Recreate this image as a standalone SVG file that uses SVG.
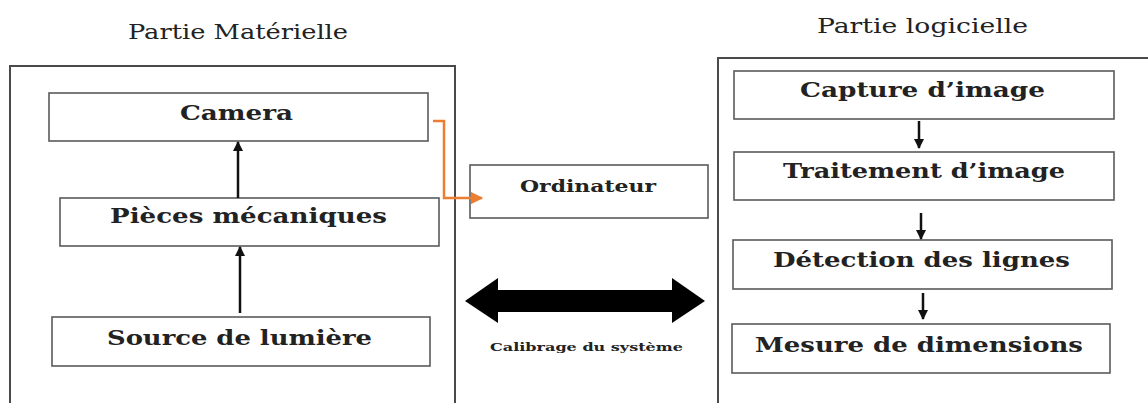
<svg xmlns="http://www.w3.org/2000/svg" width="1148" height="403" viewBox="0 0 1148 403">
<style>
.box{fill:#fff;stroke:#5a5a5a;stroke-width:1.6}
.outer{fill:none;stroke:#4a4a4a;stroke-width:2}
.t{font-family:"DejaVu Serif","Liberation Serif",serif;font-weight:bold;fill:#222;text-anchor:start}
.title{font-family:"DejaVu Serif","Liberation Serif",serif;font-size:21px;fill:#222}
.con{stroke:#111;stroke-width:2.5;fill:none}
</style>
<defs>
<marker id="ah" viewBox="0 0 10 10" refX="9" refY="5" markerWidth="4" markerHeight="4" orient="auto" markerUnits="strokeWidth">
<path d="M0,0 L10,5 L0,10 z" fill="#111"/>
</marker>
<marker id="ao" viewBox="0 0 10 10" refX="9" refY="5" markerWidth="5" markerHeight="5" orient="auto" markerUnits="strokeWidth">
<path d="M0,0 L10,5 L0,10 z" fill="#ED7D31"/>
</marker>
</defs>
<rect width="1148" height="403" fill="#fff"/>
<g id="partie-materielle">
<text class="title" x="128" y="39" textLength="220" lengthAdjust="spacingAndGlyphs">Partie Matérielle</text>
<rect class="outer" x="10" y="66" width="445" height="360"/>
</g>
<g id="partie-logicielle">
<text class="title" x="817" y="33" textLength="211" lengthAdjust="spacingAndGlyphs">Partie logicielle</text>
<rect class="outer" x="718" y="58" width="450" height="370"/>
</g>
<g id="camera">
<rect class="box" x="49" y="93" width="379" height="48"/>
<text class="t" x="180" y="120" font-size="20.5" textLength="113" lengthAdjust="spacingAndGlyphs">Camera</text>
</g>
<g id="pieces">
<rect class="box" x="60" y="198" width="379" height="48"/>
<text class="t" x="110" y="223" font-size="20.5" textLength="277" lengthAdjust="spacingAndGlyphs">Pièces mécaniques</text>
</g>
<g id="source">
<rect class="box" x="52" y="317" width="378" height="49"/>
<text class="t" x="107" y="345" font-size="20.5" textLength="265" lengthAdjust="spacingAndGlyphs">Source de lumière</text>
</g>
<g id="ordinateur">
<rect class="box" x="470" y="165" width="238" height="53"/>
<text class="t" x="520" y="192" font-size="16.5" textLength="136" lengthAdjust="spacingAndGlyphs">Ordinateur</text>
</g>
<g id="capture">
<rect class="box" x="734" y="71" width="380" height="48"/>
<text class="t" x="800" y="97" font-size="20.5" textLength="245" lengthAdjust="spacingAndGlyphs">Capture d’image</text>
</g>
<g id="traitement">
<rect class="box" x="734" y="152" width="380" height="48"/>
<text class="t" x="783" y="178" font-size="20.5" textLength="282" lengthAdjust="spacingAndGlyphs">Traitement d’image</text>
</g>
<g id="detection">
<rect class="box" x="733" y="240" width="379" height="49"/>
<text class="t" x="773" y="267" font-size="20.5" textLength="297" lengthAdjust="spacingAndGlyphs">Détection des lignes</text>
</g>
<g id="mesure">
<rect class="box" x="732" y="324" width="378" height="49"/>
<text class="t" x="755" y="352" font-size="20.5" textLength="328" lengthAdjust="spacingAndGlyphs">Mesure de dimensions</text>
</g>
<g id="calibrage">
<path d="M465,301 L498,278 L498,290 L672,290 L672,278 L705,301 L672,323 L672,312 L498,312 L498,323 z" fill="#000"/>
<text class="t" x="490" y="351" font-size="11.5" textLength="193" lengthAdjust="spacingAndGlyphs">Calibrage du système</text>
</g>
<g id="connectors">
<line class="con" x1="238" y1="198" x2="238" y2="142" marker-end="url(#ah)"/>
<line class="con" x1="240" y1="313" x2="240" y2="247" marker-end="url(#ah)"/>
<polyline points="433,121 444,121 444,198 482,198" stroke="#ED7D31" stroke-width="2.5" fill="none" marker-end="url(#ao)"/>
<line class="con" x1="919" y1="121" x2="919" y2="148" stroke-width="2" marker-end="url(#ah)"/>
<line class="con" x1="921" y1="213" x2="921" y2="239" stroke-width="2" marker-end="url(#ah)"/>
<line class="con" x1="923" y1="293" x2="923" y2="319" stroke-width="2" marker-end="url(#ah)"/>
</g>
</svg>
